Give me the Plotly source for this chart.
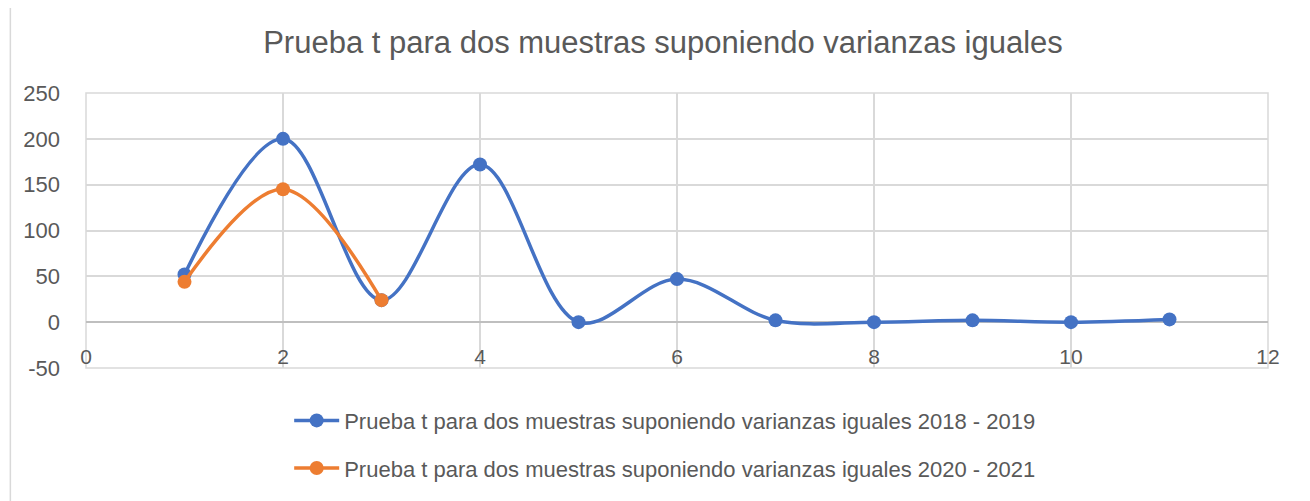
import plotly.graph_objects as go

x_a = [1, 2, 3, 4, 5, 6, 7, 8, 9, 10, 11]
y_a = [52, 200, 24, 172, 0, 47, 2, 0, 2, 0, 3]
x_b = [1, 2, 3]
y_b = [44, 145, 24]
name_a = "Prueba t para dos muestras suponiendo varianzas iguales 2018 - 2019"
name_b = "Prueba t para dos muestras suponiendo varianzas iguales 2020 - 2021"
title = "Prueba t para dos muestras suponiendo varianzas iguales"
x_ticks = [0, 2, 4, 6, 8, 10, 12]
y_ticks = [-50, 0, 50, 100, 150, 200, 250]
y_ticktext = ["-50", "0", "50", "100", "150", "200", "250"]

BLUE = "#4472C4"
ORANGE = "#ED7D31"
GRAY = "#595959"
GRID = "#D9D9D9"
FONT = "Liberation Sans, Arial, sans-serif"

fig = go.Figure()
fig.add_trace(go.Scatter(x=x_a, y=y_a, name=name_a, mode="lines+markers",
                         line=dict(color=BLUE, width=3.5, shape="spline", smoothing=1.0),
                         marker=dict(color=BLUE, size=14), legendgroup="a"))
fig.add_trace(go.Scatter(x=x_b, y=y_b, name=name_b, mode="lines+markers",
                         line=dict(color=ORANGE, width=3.5, shape="spline", smoothing=1.0),
                         marker=dict(color=ORANGE, size=14), legendgroup="b"))

fig.update_layout(
    width=1310, height=501,
    margin=dict(l=78, r=50, t=85, b=141, autoexpand=False),
    paper_bgcolor="white", plot_bgcolor="white",
    font=dict(family=FONT, color=GRAY, size=21),
    title=dict(text=title, x=0.5, xanchor="center", y=0.932, yanchor="middle",
               font=dict(size=31, color=GRAY, family=FONT)),
    showlegend=True,
    legend=dict(orientation="v", x=0.49, xanchor="center", y=-0.115, yanchor="top",
                font=dict(size=22, color=GRAY), itemwidth=45, tracegroupgap=16,
                bgcolor="rgba(0,0,0,0)"),
    xaxis=dict(range=[0, 12], tickvals=x_ticks, showgrid=True, gridcolor=GRID, gridwidth=1.5,
               zeroline=False, showline=False, ticks="", anchor="free", position=1/6,
               tickfont=dict(size=21, color=GRAY), ticklabelstandoff=20),
    yaxis=dict(range=[-50, 250], tickvals=y_ticks, ticktext=y_ticktext, showgrid=True,
               gridcolor=GRID, gridwidth=1.5,
               zeroline=True, zerolinecolor="#BFBFBF", zerolinewidth=1.5, showline=False, ticks="",
               tickfont=dict(size=22, color=GRAY), ticklabelstandoff=25, domain=[0, 1]),
)

# plot-area frame (gridlines at the range edges)
fig.add_shape(type="rect", xref="x domain", yref="y domain", x0=0, x1=1, y0=0, y1=1,
              line=dict(color=GRID, width=1.5), layer="below")
# chart border
fig.add_shape(type="rect", xref="paper", yref="paper", x0=-0.064, x1=1.032, y0=-0.6, y1=1.4,
              line=dict(color=GRID, width=1.5), layer="below")

fig.write_html("out.html")
